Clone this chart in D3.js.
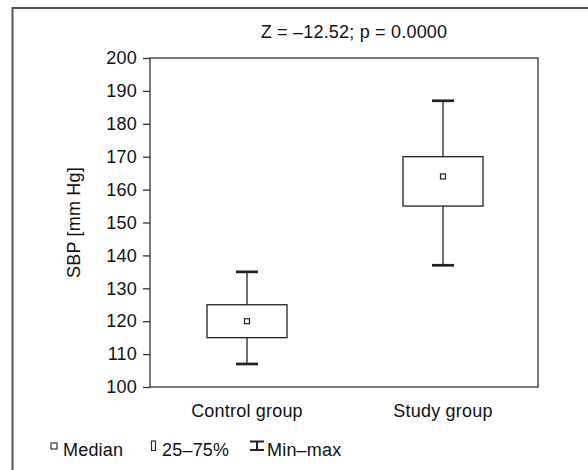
<!DOCTYPE html>
<html>
<head>
<meta charset="utf-8">
<script src="https://d3js.org/d3.v7.min.js"></script>
<style>
body { margin: 0; background: #fff; }
text { font-family: "Liberation Sans", Arial, sans-serif; fill: #111; font-size: 18px; letter-spacing: 0.2px; }
</style>
</head>
<body>
<svg width="588" height="470"></svg>
<script>
// box plot values
var groups = ["Control group", "Study group"];
var mins = [107, 137];
var q1s = [115, 155];
var medians = [120, 164];
var q3s = [125, 170];
var maxs = [135, 187];
var yTicks = [100, 110, 120, 130, 140, 150, 160, 170, 180, 190, 200];
var title = "Z = \u201312.52; p = 0.0000";
var yLabel = "SBP [mm Hg]";

var svg = d3.select("svg");
var pLeft = 150, pRight = 538, pTop = 58, pBottom = 387;

// outer frame (only top and left edges are visible)
svg.append("path")
  .attr("d", "M12.5,620 L12.5,8 L620,8")
  .attr("fill", "none").attr("stroke", "#555").attr("stroke-width", 2);

var x = d3.scalePoint().domain(groups).range([247, 443]);
var y = d3.scaleLinear().domain([100, 200]).range([pBottom, pTop]);

// plot area border
svg.append("rect")
  .attr("x", pLeft).attr("y", pTop)
  .attr("width", pRight - pLeft).attr("height", pBottom - pTop)
  .attr("fill", "none").attr("stroke", "#333").attr("stroke-width", 1.3);

var yAxis = svg.append("g")
  .attr("transform", "translate(" + pLeft + ",0)")
  .call(d3.axisLeft(y).tickValues(yTicks).tickSize(7).tickPadding(6));
yAxis.select(".domain").remove();
yAxis.selectAll("line").attr("stroke", "#333").attr("stroke-width", 1.3);
yAxis.selectAll("text").attr("fill", "#111")
  .style("font-size", "18px")
  .style("font-family", "'Liberation Sans', Arial, sans-serif");

svg.append("text")
  .attr("transform", "translate(80," + ((pTop + pBottom) / 2) + ") rotate(-90)")
  .attr("text-anchor", "middle")
  .text(yLabel);

svg.append("text")
  .attr("x", 354).attr("y", 38)
  .attr("text-anchor", "middle")
  .text(title);

var boxW = 80, capW = 22;
groups.forEach(function(g, i) {
  var cx = x(g);
  var grp = svg.append("g");
  // whiskers
  grp.append("line").attr("x1", cx).attr("x2", cx)
    .attr("y1", y(maxs[i])).attr("y2", y(q3s[i]))
    .attr("stroke", "#222").attr("stroke-width", 1.3);
  grp.append("line").attr("x1", cx).attr("x2", cx)
    .attr("y1", y(q1s[i])).attr("y2", y(mins[i]))
    .attr("stroke", "#222").attr("stroke-width", 1.3);
  [maxs[i], mins[i]].forEach(function(v) {
    grp.append("line").attr("x1", cx - capW / 2).attr("x2", cx + capW / 2)
      .attr("y1", y(v)).attr("y2", y(v))
      .attr("stroke", "#222").attr("stroke-width", 2.7);
  });
  // box
  grp.append("rect")
    .attr("x", cx - boxW / 2).attr("y", y(q3s[i]))
    .attr("width", boxW).attr("height", y(q1s[i]) - y(q3s[i]))
    .attr("fill", "#fff").attr("stroke", "#222").attr("stroke-width", 1.3);
  // median marker
  grp.append("rect")
    .attr("x", cx - 2.5).attr("y", y(medians[i]) - 2.5)
    .attr("width", 5).attr("height", 5)
    .attr("fill", "#fff").attr("stroke", "#222").attr("stroke-width", 1.2);
  // category label
  svg.append("text")
    .attr("x", cx).attr("y", 417)
    .attr("text-anchor", "middle")
    .text(g);
});

// legend
var lg = svg.append("g");
lg.append("rect").attr("x", 51).attr("y", 443).attr("width", 6).attr("height", 6)
  .attr("fill", "#fff").attr("stroke", "#222").attr("stroke-width", 1.1);
lg.append("text").attr("x", 63).attr("y", 456).text("Median");
lg.append("rect").attr("x", 151.5).attr("y", 441).attr("width", 4).attr("height", 9.5)
  .attr("fill", "#fff").attr("stroke", "#222").attr("stroke-width", 1.1);
lg.append("text").attr("x", 162).attr("y", 456).text("25\u201375%");
lg.append("path").attr("d", "M250,441.5 L264,441.5 M257,441.5 L257,450 M250,450 L264,450")
  .attr("fill", "none").attr("stroke", "#222").attr("stroke-width", 2);
lg.append("text").attr("x", 267).attr("y", 456).text("Min\u2013max");
</script>
</body>
</html>
